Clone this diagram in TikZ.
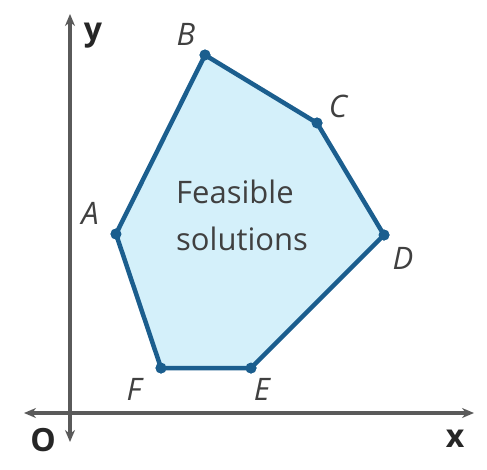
\documentclass[tikz,border=0pt]{standalone}
\usepackage{fontspec}
\setmainfont{Open Sans}
\usetikzlibrary{arrows.meta}
\definecolor{edge}{HTML}{1B5E8E}
\definecolor{region}{HTML}{D4F0FA}
\definecolor{axisc}{HTML}{5A5A5A}
\tikzset{
  axisline/.style={draw=axisc, line width=3.5pt, {Stealth[length=12pt,width=10pt]}-{Stealth[length=12pt,width=10pt]}},
  vertex/.style={circle, fill=edge, inner sep=0pt, minimum size=11pt},
  vlabel/.style={font=\fontsize{31}{31}\selectfont\itshape, text=black!75, inner sep=0pt},
  axlabel/.style={font=\fontsize{32}{32}\selectfont\bfseries, text=black!85, inner sep=0pt},
  bodytext/.style={font=\fontsize{31}{31}\selectfont, text=black!75, inner sep=0pt, anchor=base west},
}
\begin{document}
\begin{tikzpicture}[x=1pt,y=-1pt]
\useasboundingbox (0,0) rectangle (487,469);
\coordinate (ytop) at (70,14);
\coordinate (ybot) at (70,442);
\coordinate (xleft) at (24,413);
\coordinate (xright) at (474,413);
\draw[axisline] (ybot) -- (ytop);
\draw[axisline] (xleft) -- (xright);
\node[vertex] (B) at (205,55) {};
\node[vertex] (C) at (317,123) {};
\node[vertex] (D) at (384,235) {};
\node[vertex] (E) at (251,368) {};
\node[vertex] (F) at (161,368) {};
\node[vertex] (A) at (116,234) {};
\fill[region] (B.center) -- (C.center) -- (D.center) -- (E.center) -- (F.center) -- (A.center) -- cycle;
\draw[edge, line width=4.5pt, line join=round] (B.center) -- (C.center) -- (D.center) -- (E.center) -- (F.center) -- (A.center) -- cycle;
\foreach \v in {A,B,C,D,E,F} \fill[edge] (\v) circle (5.5pt);
\node[vlabel] (lB) at (186,34) {B};
\node[vlabel] (lC) at (338,106) {C};
\node[vlabel] (lD) at (403,258) {D};
\node[vlabel] (lE) at (262,389) {E};
\node[vlabel] (lF) at (134,389) {F};
\node[vlabel] (lA) at (90,213) {A};
\node[axlabel, anchor=base] (ly) at (93,40) {y};
\node[axlabel] (lO) at (43,440) {O};
\node[axlabel] (lx) at (455,439) {x};
\node[bodytext] (t1) at (176,203) {Feasible};
\node[bodytext] (t2) at (176,250) {solutions};
\end{tikzpicture}
\end{document}
